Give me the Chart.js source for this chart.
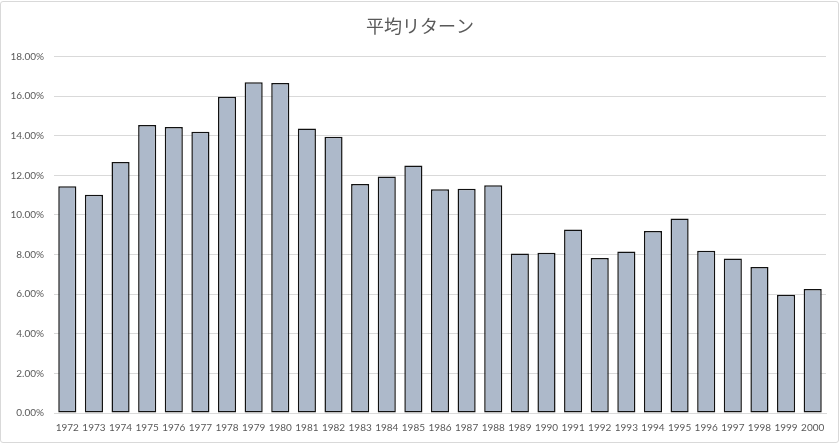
<!DOCTYPE html>
<html>
<head>
<meta charset="utf-8">
<script src="https://cdn.jsdelivr.net/npm/chart.js@4"></script>
<style>
  html, body { margin: 0; padding: 0; background: #fff; }
  #wrap { position: relative; width: 840px; height: 444px; }
  #frame { position: absolute; left: 0; top: 1px; width: 837px; height: 440px; border: 1px solid #d9d9d9; border-radius: 3px; pointer-events: none; }
  canvas { position: absolute; left: 0; top: 0; }
</style>
</head>
<body>
<div id="wrap">
  <canvas id="myChart" width="840" height="444"></canvas>
  <div id="frame"></div>
</div>
<script>
// data
const years = ['1972', '1973', '1974', '1975', '1976', '1977', '1978', '1979', '1980', '1981',
  '1982', '1983', '1984', '1985', '1986', '1987', '1988', '1989', '1990', '1991',
  '1992', '1993', '1994', '1995', '1996', '1997', '1998', '1999', '2000'];
const avgReturn = [11.45, 11.02, 12.68, 14.55, 14.45, 14.21, 15.97, 16.70, 16.67, 14.37,
  13.95, 11.56, 11.95, 12.50, 11.30, 11.33, 11.50, 8.06, 8.09, 9.27,
  7.83, 8.16, 9.19, 9.82, 8.19, 7.80, 7.38, 5.97, 6.26];
const yTicks = [0, 2, 4, 6, 8, 10, 12, 14, 16, 18];

const labelColor = '#595959';
const gridColor = '#d9d9d9';

const ctx = document.getElementById('myChart').getContext('2d');
new Chart(ctx, {
  type: 'bar',
  data: {
    labels: years,
    datasets: [{
      label: '平均リターン',
      data: avgReturn,
      backgroundColor: '#adb9ca',
      borderColor: '#111111',
      borderWidth: 1.5,
      borderSkipped: false,
      barPercentage: 0.68,
      categoryPercentage: 1.0
    }]
  },
  options: {
    responsive: false,
    animation: false,
    devicePixelRatio: 1,
    layout: { padding: 0 },
    plugins: {
      legend: { display: false },
      tooltip: { enabled: false },
      title: {
        display: true,
        text: '平均リターン',
        color: labelColor,
        font: { family: '"Noto Sans CJK JP", "Noto Sans", sans-serif', size: 18, weight: 'normal' },
        padding: { top: 15, bottom: 20 }
      }
    },
    scales: {
      x: {
        grid: { display: false, drawTicks: false },
        border: { color: gridColor },
        ticks: {
          color: labelColor,
          font: { family: 'Lato, sans-serif', size: 10 },
          padding: 9,
          autoSkip: false,
          maxRotation: 0,
          minRotation: 0
        },
        afterFit: (scale) => { scale.height = 31; }
      },
      y: {
        min: 0,
        max: 18,
        afterBuildTicks: (scale) => { scale.ticks = yTicks.map(v => ({ value: v })); },
        grid: { color: gridColor, lineWidth: 1, drawTicks: false },
        border: { display: false },
        ticks: {
          color: labelColor,
          font: { family: 'Lato, sans-serif', size: 10 },
          padding: 10,
          callback: (v) => v.toFixed(2) + '%'
        },
        afterFit: (scale) => { scale.width = 54; }
      },
      // empty spacer on the right so the title centres on the whole canvas
      spacer: {
        type: 'linear',
        position: 'right',
        min: 0,
        max: 1,
        grid: { display: false, drawTicks: false },
        border: { display: false },
        ticks: { display: false },
        afterFit: (scale) => { scale.width = 14; }
      }
    }
  }
});
</script>
</body>
</html>
